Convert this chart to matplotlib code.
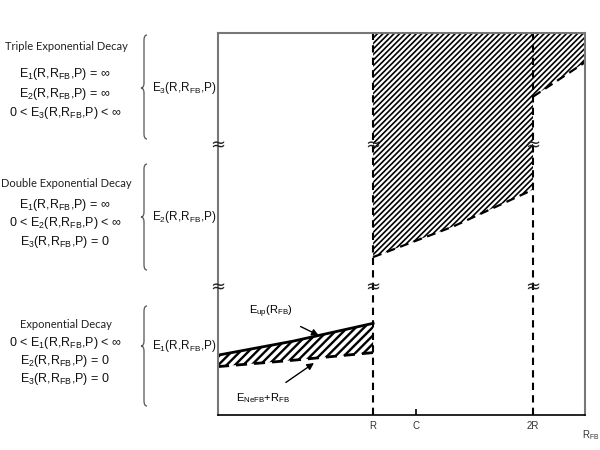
import numpy as np
import matplotlib
matplotlib.use("Agg")
import matplotlib.pyplot as plt
from matplotlib.path import Path
from matplotlib.patches import PathPatch
from matplotlib.transforms import Affine2D

plt.rcParams['font.family'] = ['Liberation Sans', 'DejaVu Sans']
plt.rcParams['mathtext.fontset'] = 'custom'
plt.rcParams['mathtext.rm'] = 'Liberation Sans'
plt.rcParams['mathtext.it'] = 'Liberation Sans:italic'

# schematic data (x in units of R, y in arbitrary energy units)
x_low = [0.03, 0.5, 1.0]
e_up = [0.47, 0.58, 0.72]
e_nefb = [0.38, 0.43, 0.49]
x_mid = [1.0, 1.5, 2.0]
e2_lower = [1.24, 1.48, 1.77]
x_high = [2.0, 2.325]
e3_lower = [2.50, 2.77]
y_top = 3.0
break_x = [0.03, 1.0, 2.0]
break_y = [1.0, 2.12]
tick_pos = [1.0, 1.27, 2.0]
tick_labels = ['R', 'C', '2R']

# left-hand text blocks (pixel positions of the text lines)
headers = ['Triple Exponential Decay', 'Double Exponential Decay', 'Exponential Decay']
header_y = [47, 183, 325]
eq_lines = [
    [r'E$\mathregular{_1}$(R,R$\mathregular{_{FB}}$,P) = ∞',
     r'E$\mathregular{_2}$(R,R$\mathregular{_{FB}}$,P) = ∞',
     r'0 < E$\mathregular{_3}$(R,R$\mathregular{_{FB}}$,P) < ∞'],
    [r'E$\mathregular{_1}$(R,R$\mathregular{_{FB}}$,P) = ∞',
     r'0 < E$\mathregular{_2}$(R,R$\mathregular{_{FB}}$,P) < ∞',
     r'E$\mathregular{_3}$(R,R$\mathregular{_{FB}}$,P) = 0'],
    [r'0 < E$\mathregular{_1}$(R,R$\mathregular{_{FB}}$,P) < ∞',
     r'E$\mathregular{_2}$(R,R$\mathregular{_{FB}}$,P) = 0',
     r'E$\mathregular{_3}$(R,R$\mathregular{_{FB}}$,P) = 0'],
]
eq_y = [[74, 94, 113], [205, 223, 242], [343, 361, 379]]
brace_labels = [r'E$\mathregular{_3}$(R,R$\mathregular{_{FB}}$,P)',
                r'E$\mathregular{_2}$(R,R$\mathregular{_{FB}}$,P)',
                r'E$\mathregular{_1}$(R,R$\mathregular{_{FB}}$,P)']
brace_spans = [(35, 88, 139), (164, 217, 270), (306, 346, 406)]

W, H = 600, 450
fig = plt.figure(figsize=(6, 4.5), dpi=100)
ax = fig.add_axes([218 / W, 1 - 415 / H, (585 - 218) / W, (415 - 33) / H])
ax.set_xlim(0.03, 2.325)
ax.set_ylim(0, y_top)

for s in ['left', 'top', 'right']:
    ax.spines[s].set_color('#777777')
    ax.spines[s].set_linewidth(1.5)
ax.spines['bottom'].set_color('black')
ax.spines['bottom'].set_linewidth(1.2)

ax.set_yticks([])
ax.set_xticks(tick_pos)
ax.set_xticklabels(tick_labels, fontsize=7, color='#333333')
ax.tick_params(axis='x', direction='in', length=4, width=1.2, pad=4)
for i, t in enumerate(ax.xaxis.get_major_ticks()):
    if tick_labels[i] != 'C':
        t.tick1line.set_visible(False)
    t.tick2line.set_visible(False)
ax.text(0.993, -0.035, r'R$\mathregular{_{FB}}$', transform=ax.transAxes,
        ha='left', va='top', fontsize=7, color='#333333')

# lower band
plt.rcParams['hatch.linewidth'] = 1.7
ax.fill_between(x_low, e_nefb, e_up, facecolor='none', edgecolor='black',
                hatch='////', linewidth=0)
ax.plot(x_low, e_up, color='black', lw=2)
ax.plot(x_low, e_nefb, color='black', lw=2, ls=(0, (4, 2.5)))

# upper bands
plt.rcParams['hatch.linewidth'] = 1.2
ax.fill_between(x_mid, e2_lower, y_top, facecolor='none', edgecolor='black',
                hatch='//////', linewidth=0)
ax.fill_between(x_high, e3_lower, y_top, facecolor='none', edgecolor='black',
                hatch='//////', linewidth=0)
ax.plot(x_mid, e2_lower, color='black', lw=1.6, ls=(0, (4, 2.5)))
ax.plot(x_high, e3_lower, color='black', lw=1.6, ls=(0, (4, 2.5)))

for xv in [1.0, 2.0]:
    ax.axvline(xv, color='black', lw=1.5, ls=(0, (3.5, 2.5)))

for bx in break_x:
    for by in break_y:
        ax.text(bx, by, '≈', ha='center', va='center', fontsize=13,
                family='DejaVu Sans', color='#222222', clip_on=False)

# annotations
xa = 0.66
ax.annotate(r'E$\mathregular{_{up}}$(R$\mathregular{_{FB}}$)',
            xy=(xa, np.interp(xa, x_low, e_up)), xytext=(0.36, 0.81),
            fontsize=8, ha='center', va='center',
            arrowprops=dict(arrowstyle='-|>', color='black', lw=1,
                            mutation_scale=10, shrinkA=6, shrinkB=0))
xb = 0.68
ax.annotate(r'E$\mathregular{_{NeFB}}$+R$\mathregular{_{FB}}$',
            xy=(xb, np.interp(xb, x_low, e_nefb)), xytext=(0.31, 0.13),
            fontsize=8, ha='center', va='center',
            arrowprops=dict(arrowstyle='-|>', color='black', lw=1,
                            mutation_scale=10, shrinkA=8, shrinkB=7))

# left-hand descriptions
def fx(px):
    return px / W


def fy(py):
    return 1 - py / H


for k in range(3):
    fig.text(fx(66), fy(header_y[k]), headers[k], ha='center', va='center',
             fontsize=8, family=['Lato', 'DejaVu Sans'], color='#222222')
    for line, yy in zip(eq_lines[k], eq_y[k]):
        fig.text(fx(65), fy(yy), line, ha='center', va='center',
                 fontsize=9, color='#111111')
    fig.text(fx(152), fy(brace_spans[k][1]), brace_labels[k], ha='left',
             va='center', fontsize=8.5, color='#111111')

px_to_fig = Affine2D().scale(1 / W, -1 / H).translate(0, 1) + fig.transFigure
for top, mid, bot in brace_spans:
    x0 = 144
    verts = [(x0 + 3, top), (x0, top), (x0, top + 5),
             (x0, mid - 5), (x0, mid), (x0 - 3, mid),
             (x0, mid), (x0, mid + 5),
             (x0, bot - 5), (x0, bot), (x0 + 3, bot)]
    codes = [Path.MOVETO, Path.CURVE3, Path.CURVE3,
             Path.LINETO, Path.CURVE3, Path.CURVE3,
             Path.CURVE3, Path.CURVE3,
             Path.LINETO, Path.CURVE3, Path.CURVE3]
    fig.patches.append(PathPatch(Path(verts, codes), transform=px_to_fig,
                                 fill=False, edgecolor='#555555', lw=0.9))

fig.savefig('out.png', dpi=100)
